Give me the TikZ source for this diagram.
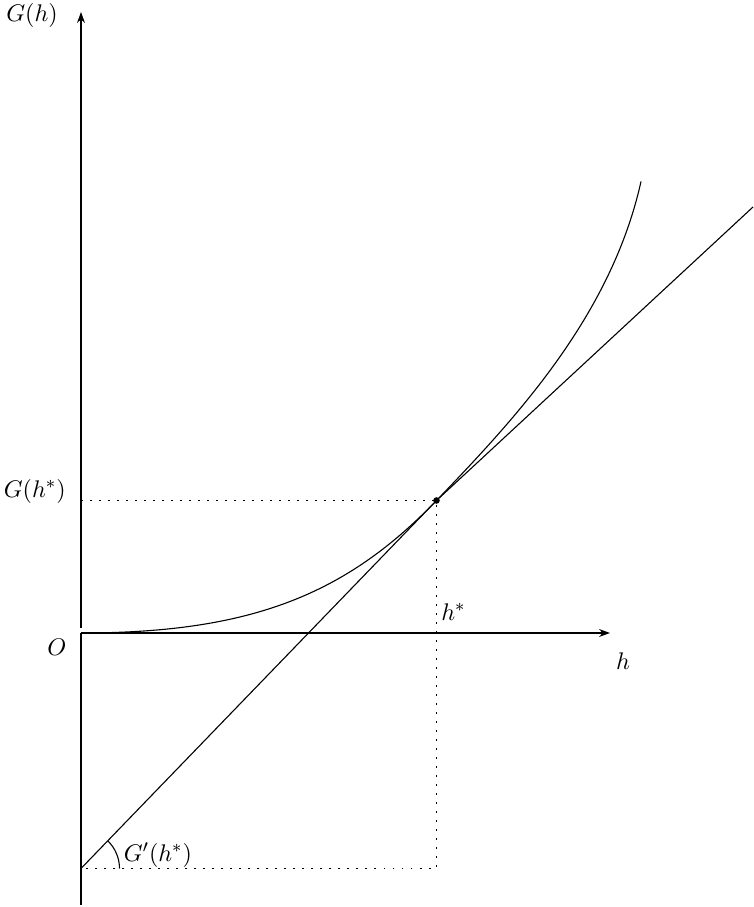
\documentclass[tikz,border=0pt]{standalone}
\usepackage{amsmath,amssymb}
\usetikzlibrary{arrows.meta,calc}

\begin{document}
\begin{tikzpicture}[font=\fontsize{11}{13}\selectfont, >={Stealth[length=5pt,width=3.6pt]}, line width=0.5pt, guide/.style={dash pattern=on 0.9pt off 3.2pt}]
    \useasboundingbox (-1.296,-4.384) rectangle (10.752,10.128);
    \coordinate (O) at (0,0);
    \coordinate (Ytop) at (0,9.936);
    \coordinate (Ybot) at (0,-4.352);
    \coordinate (Xend) at (8.464,0);
    \coordinate (P) at (5.688,2.12);
    \coordinate (V) at (0,-3.768);
    \coordinate (Lend) at (10.752,6.816);
    \coordinate (Cend) at (8.96,7.224);

    % axes
    \draw[->] (0,0.08) -- (Ytop);
    \draw (O) -- (Ybot);
    \draw[->] (O) -- (Xend);

    % guides to the point of contact
    \draw[guide] (O |- P) -- (P) -- (P |- V) -- (V);

    % curve and tangent
    \draw (O) .. controls (2.72,0) and (4.24,0.614) .. (P) .. controls (6.96,3.443) and (8.48,5.072) .. (Cend);
    \draw (V) -- (P) -- (Lend);
    \fill (P) circle (1.5pt);
    \draw ([shift={(0:0.616)}]V) arc[start angle=0, end angle=46, radius=0.616];

    \node (Gh) at (-0.784,9.872) {$G(h)$};
    \node (Ghs) at (-0.74,2.272) {$G(h^*)$};
    \node (Olab) at (-0.384,-0.224) {$O$};
    \node (hlab) at (8.672,-0.448) {$h$};
    \node[anchor=west, inner sep=1pt] (hs) at (5.72,0.336) {$h^*$};
    \node (Gp) at (1.232,-3.552) {$G'(h^*)$};
\end{tikzpicture}
\end{document}
